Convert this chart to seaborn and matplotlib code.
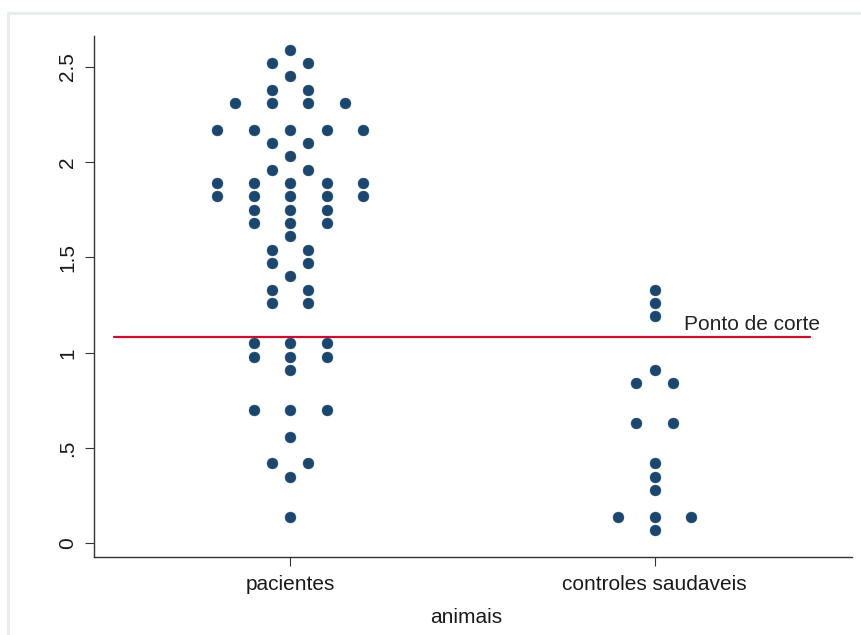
import numpy as np
import pandas as pd
import seaborn as sns
import matplotlib.pyplot as plt
from matplotlib.patches import Rectangle

# Binned values (dotplot rows) and how many subjects fall in each bin
pacientes_vals = [2.59, 2.52, 2.45, 2.38, 2.31, 2.17, 2.10, 2.03, 1.96, 1.89,
                  1.82, 1.75, 1.68, 1.61, 1.54, 1.47, 1.40, 1.33, 1.26, 1.05,
                  0.98, 0.91, 0.70, 0.56, 0.42, 0.35, 0.14]
pacientes_cnt = [1, 2, 1, 2, 4, 5, 2, 1, 2, 5,
                 5, 3, 3, 1, 2, 2, 1, 2, 2, 3,
                 3, 1, 3, 1, 2, 1, 1]

controles_vals = [1.33, 1.26, 1.19, 0.91, 0.84, 0.63, 0.42, 0.35, 0.28, 0.14, 0.07]
controles_cnt = [1, 1, 1, 1, 2, 2, 1, 1, 1, 3, 1]

groups = ["pacientes", "controles saudaveis"]
ponto_de_corte = 1.08
y_ticks = [0, 0.5, 1, 1.5, 2, 2.5]
y_ticklabels = ["0", ".5", "1", "1.5", "2", "2.5"]

NAVY = "#1a476f"
RED = "#c8102e"
TXT = "#1a1a1a"
FONT = ["Liberation Sans", "DejaVu Sans"]

# Build one row per subject, spreading equal values side by side
spacing = 0.1003
rows = []
for gi, (vals, cnts) in enumerate([(pacientes_vals, pacientes_cnt),
                                   (controles_vals, controles_cnt)]):
    for v, n in zip(vals, cnts):
        for k in range(n):
            rows.append({"grupo": groups[gi],
                         "pos": gi + 1 + (k - (n - 1) / 2) * spacing,
                         "valor": v})
df = pd.DataFrame(rows)

sns.set_theme(style="white")
plt.rcParams["font.family"] = FONT

fig = plt.figure(figsize=(8.62, 6.35), dpi=100)
fig.patch.set_facecolor("white")
# light outer frame of the graph region
fig.patches.append(Rectangle((8 / 862, -0.1), 1.2, 1 - 13 / 635 + 0.1,
                             transform=fig.transFigure, fill=False,
                             edgecolor="#e6eef0", linewidth=2.2, zorder=0))

ax = fig.add_axes([94.3 / 862, 1 - 556.7 / 635,
                   (851.7 - 94.3) / 862, (556.7 - 36) / 635])
ax.set_facecolor("white")

sns.scatterplot(data=df, x="pos", y="valor", ax=ax, color=NAVY, s=62,
                edgecolor=NAVY, linewidth=0.3, legend=False, zorder=3)

ax.plot([0.518, 2.427], [ponto_de_corte, ponto_de_corte], color=RED,
        linewidth=1.6, zorder=2)
ax.text(2.452, ponto_de_corte + 0.07, "Ponto de corte", ha="right",
        va="center", fontsize=15, color="#222222")

ax.set_xlim(0.463, 2.54)
ax.set_ylim(-0.07, 2.661)

ax.set_xticks([1, 2])
ax.set_xticklabels(groups, fontsize=15, color=TXT)
ax.set_yticks(y_ticks)
ax.set_yticklabels(y_ticklabels, fontsize=15, color=TXT, rotation=90,
                   va="center")

ax.tick_params(axis="both", which="major", direction="out", length=6.5,
               width=0.8, color="#333333", left=True, bottom=True)
ax.tick_params(axis="y", pad=6)
ax.tick_params(axis="x", pad=7)

ax.set_xlabel("animais", fontsize=15, color=TXT)
ax.xaxis.set_label_coords(0.491, -0.098)
ax.set_ylabel("")

for side in ["top", "right"]:
    ax.spines[side].set_visible(False)
for side in ["left", "bottom"]:
    ax.spines[side].set_color("#333333")
    ax.spines[side].set_linewidth(1.0)

fig.savefig("out.png", dpi=100)
